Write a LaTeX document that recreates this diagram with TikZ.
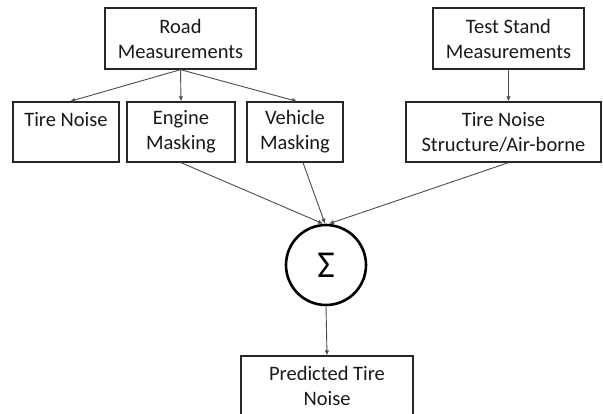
\documentclass[tikz,border=0pt]{standalone}
\usepackage{fontspec}
\setmainfont{Carlito}
\usetikzlibrary{arrows.meta,calc}
\begin{document}
\begin{tikzpicture}[x=1pt,y=-1pt,
  box/.style={draw=black!85,line width=1.3pt,inner sep=0pt,align=center,
    minimum height=60pt,text=black!90,font=\fontsize{20.5}{25}\selectfont},
  conn/.style={draw=black!70,line width=0.9pt,-{Latex[length=5pt,width=4.5pt]}},
  sumnode/.style={draw=black,circle,line width=2.6pt,minimum size=80pt,inner sep=0pt,
    font=\fontsize{38}{38}\selectfont}]
\useasboundingbox (0,0) rectangle (603,413);
\node[box,minimum width=151pt,minimum height=61pt] (road) at (180.5,38.5) {Road\\Measurements};
\node[box,minimum width=151pt,minimum height=61pt] (test) at (508.5,38.5) {Test Stand\\Measurements};
\node[box,minimum width=106pt] (tn) at (66,132) {Tire Noise\\~};
\node[box,minimum width=108pt] (eng) at (181,132) {Engine\\Masking};
\node[box,minimum width=96pt] (veh) at (295,132) {Vehicle\\Masking};
\node[box,minimum width=195pt] (sa) at (503.5,132) {Tire Noise\\Structure/Air-borne};
\node[sumnode] (sum) at (326,265) {Σ};
\node[box,minimum width=172pt] (pred) at (327,386) {Predicted Tire\\Noise};
\draw[conn] (road.south) -- ($(tn.north)+(4,0)$);
\draw[conn] (road.south) -- (eng.north);
\draw[conn] (road.south) -- ($(veh.north)+(2,0)$);
\draw[conn] (test.south) -- ($(sa.north)+(5,0)$);
\draw[conn] (eng.south) -- ($(sum.north)+(-3,0)$);
\draw[conn] ($(veh.south)+(8,0)$) -- ($(sum.north)+(-1,0)$);
\draw[conn] ($(sa.south)+(5,0)$) -- ($(sum.north)+(3,0)$);
\draw[conn] (sum.south) -- (pred.north);
\end{tikzpicture}
\end{document}
